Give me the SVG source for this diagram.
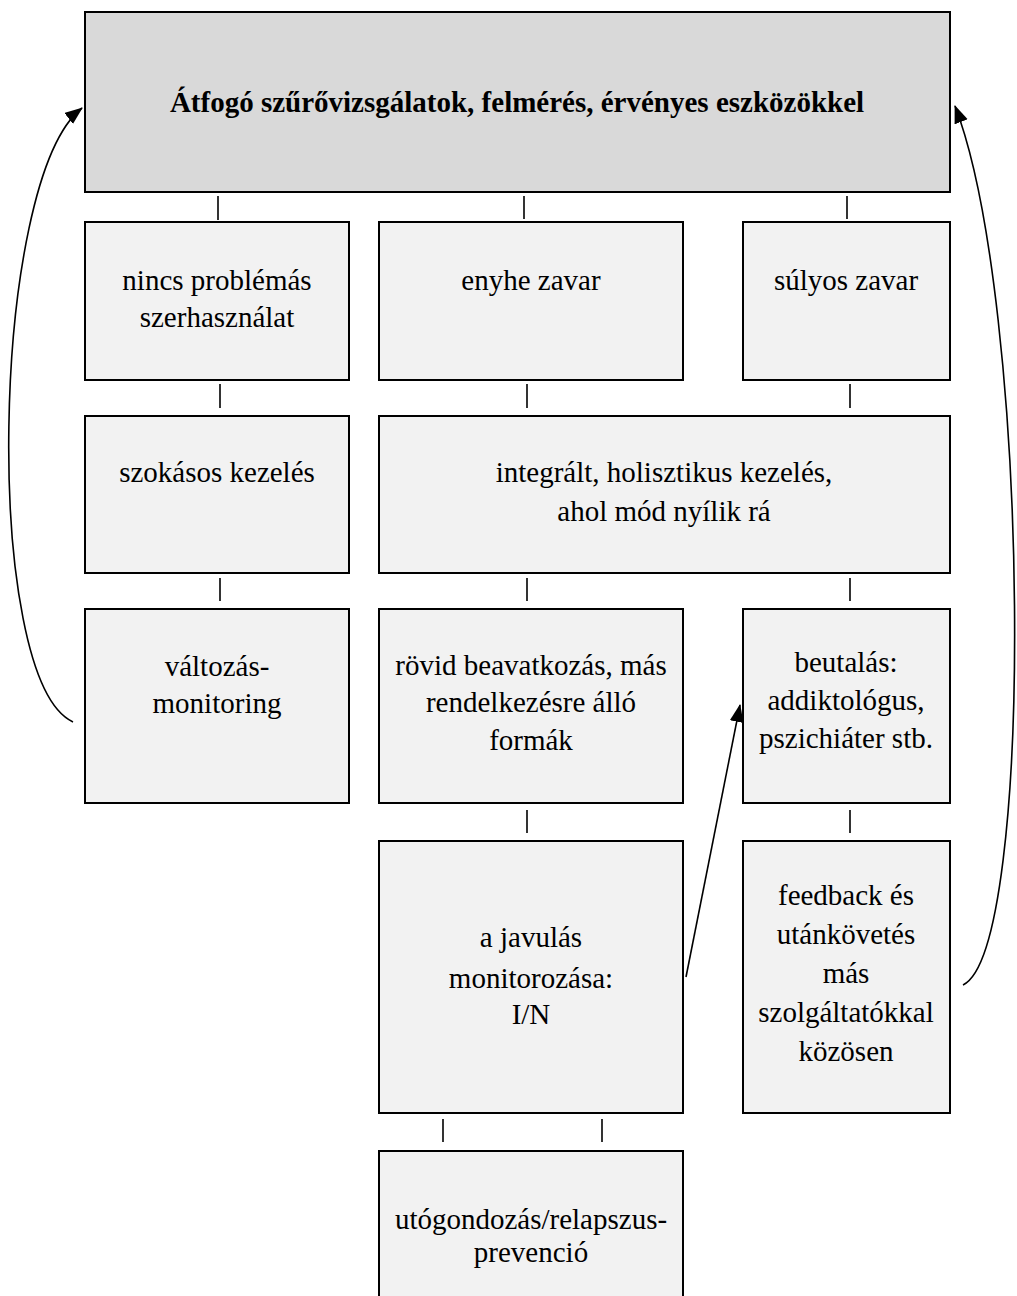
<svg xmlns="http://www.w3.org/2000/svg" width="1017" height="1296" viewBox="0 0 1017 1296">
<defs>
<marker id="ah" markerUnits="userSpaceOnUse" markerWidth="20" markerHeight="16" refX="17" refY="7" orient="auto">
<path d="M0,0 L18,7 L0,14 Z" fill="#000"/>
</marker>
<style>
.box{fill:#f2f2f2;stroke:#000;stroke-width:2}
.head{fill:#d9d9d9;stroke:#000;stroke-width:2}
.t{font-family:"Liberation Serif","Times New Roman",serif;font-size:29px;fill:#000;text-anchor:middle}
.b{font-weight:bold}
.tick{stroke:#000;stroke-width:1.6}
.arc{fill:none;stroke:#000;stroke-width:1.6}
</style>
</defs>
<rect width="1017" height="1296" fill="#fff"/>
<g id="connectors">
<line class="tick" x1="218" y1="196" x2="218" y2="220"/>
<line class="tick" x1="524" y1="196" x2="524" y2="219"/>
<line class="tick" x1="847" y1="196" x2="847" y2="219"/>
<line class="tick" x1="220" y1="384" x2="220" y2="408"/>
<line class="tick" x1="527" y1="384" x2="527" y2="408"/>
<line class="tick" x1="850" y1="384" x2="850" y2="408"/>
<line class="tick" x1="220" y1="578" x2="220" y2="601"/>
<line class="tick" x1="527" y1="578" x2="527" y2="601"/>
<line class="tick" x1="850" y1="578" x2="850" y2="601"/>
<line class="tick" x1="527" y1="810" x2="527" y2="833"/>
<line class="tick" x1="850" y1="810" x2="850" y2="833"/>
<line class="tick" x1="443" y1="1119" x2="443" y2="1142"/>
<line class="tick" x1="602" y1="1119" x2="602" y2="1142"/>
<path class="arc" d="M73,722 C-18,680 -10,180 82,108" marker-end="url(#ah)"/>
<path class="arc" d="M963,985 C1036,950 1030,300 955,106" marker-end="url(#ah)"/>
<line class="arc" x1="686" y1="977" x2="740" y2="705" marker-end="url(#ah)"/>
</g>
<g id="n-top"><rect class="head" x="85" y="12" width="865" height="180"/>
<text class="t b" x="517" y="112">Átfogó szűrővizsgálatok, felmérés, érvényes eszközökkel</text></g>
<g id="n-nincs"><rect class="box" x="85" y="222" width="264" height="158"/>
<text class="t" x="217" y="290">nincs problémás</text><text class="t" x="217" y="327">szerhasználat</text></g>
<g id="n-enyhe"><rect class="box" x="379" y="222" width="304" height="158"/>
<text class="t" x="531" y="290">enyhe zavar</text></g>
<g id="n-sulyos"><rect class="box" x="743" y="222" width="207" height="158"/>
<text class="t" x="846" y="290">súlyos zavar</text></g>
<g id="n-szokasos"><rect class="box" x="85" y="416" width="264" height="157"/>
<text class="t" x="217" y="482">szokásos kezelés</text></g>
<g id="n-integralt"><rect class="box" x="379" y="416" width="571" height="157"/>
<text class="t" x="664" y="482">integrált, holisztikus kezelés,</text><text class="t" x="664" y="521">ahol mód nyílik rá</text></g>
<g id="n-valtozas"><rect class="box" x="85" y="609" width="264" height="194"/>
<text class="t" x="217" y="676">változás-</text><text class="t" x="217" y="713">monitoring</text></g>
<g id="n-rovid"><rect class="box" x="379" y="609" width="304" height="194"/>
<text class="t" x="531" y="675">rövid beavatkozás, más</text><text class="t" x="531" y="712">rendelkezésre álló</text><text class="t" x="531" y="750">formák</text></g>
<g id="n-beutalas"><rect class="box" x="743" y="609" width="207" height="194"/>
<text class="t" x="846" y="672">beutalás:</text><text class="t" x="846" y="710">addiktológus,</text><text class="t" x="846" y="748">pszichiáter stb.</text></g>
<g id="n-javulas"><rect class="box" x="379" y="841" width="304" height="272"/>
<text class="t" x="531" y="947">a javulás</text><text class="t" x="531" y="988">monitorozása:</text><text class="t" x="531" y="1024">I/N</text></g>
<g id="n-feedback"><rect class="box" x="743" y="841" width="207" height="272"/>
<text class="t" x="846" y="905">feedback és</text><text class="t" x="846" y="944">utánkövetés</text><text class="t" x="846" y="983">más</text><text class="t" x="846" y="1022">szolgáltatókkal</text><text class="t" x="846" y="1061">közösen</text></g>
<g id="n-utogondozas"><rect class="box" x="379" y="1151" width="304" height="160"/>
<text class="t" x="531" y="1229">utógondozás/relapszus-</text><text class="t" x="531" y="1262">prevenció</text></g>
</svg>
